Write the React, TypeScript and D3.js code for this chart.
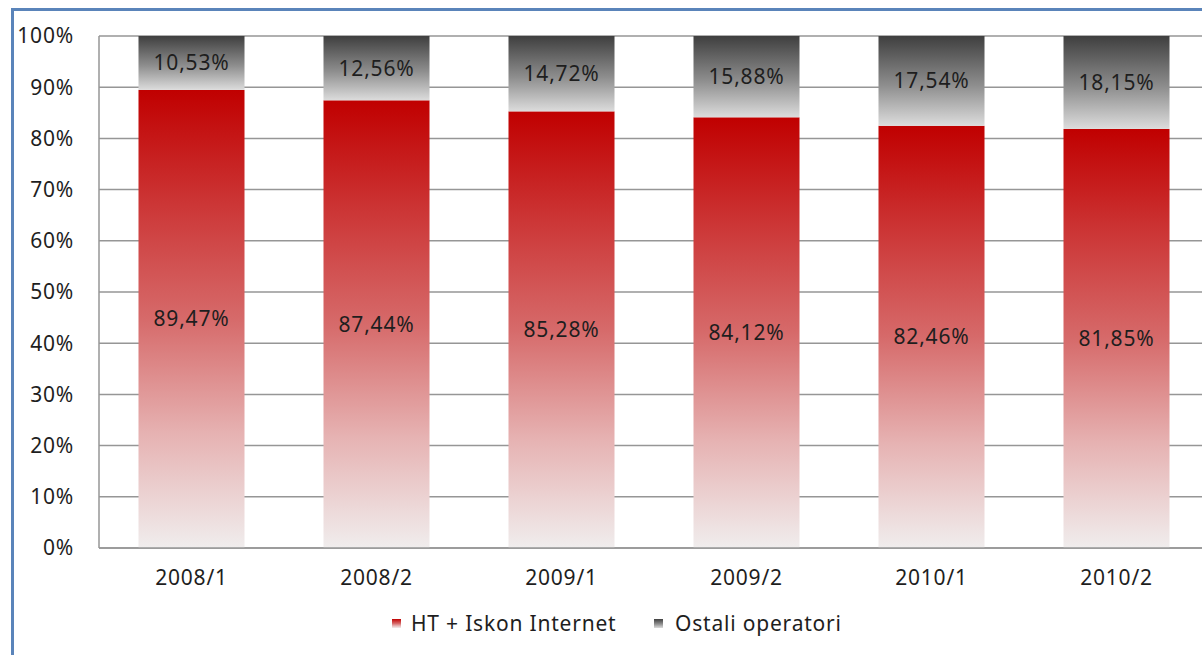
import React from "react";
import * as d3 from "d3";

const categories = ["2008/1", "2008/2", "2009/1", "2009/2", "2010/1", "2010/2"];
const htValues = [89.47, 87.44, 85.28, 84.12, 82.46, 81.85];
const otherValues = [10.53, 12.56, 14.72, 15.88, 17.54, 18.15];
const yTicks = [0, 10, 20, 30, 40, 50, 60, 70, 80, 90, 100];
const seriesNames = ["HT + Iskon Internet", "Ostali operatori"];

const W = 1202;
const H = 655;
const plotLeft = 99;
const plotTop = 36;
const plotBottom = 548;
const step = 185;
const FONT = "'Noto Sans', 'Open Sans', sans-serif";
const FS = 21;
const LS = 0.8;

const fmt = (v: number) => v.toFixed(2).replace(".", ",") + "%";

export default function App() {
  const x = d3
    .scaleBand<string>()
    .domain(categories)
    .range([plotLeft, plotLeft + step * categories.length])
    .paddingInner(0.427)
    .paddingOuter(0.2135);
  const y = d3.scaleLinear().domain([0, 100]).range([plotBottom, plotTop]);
  const bw = x.bandwidth();

  return (
    <svg
      width={W}
      height={H}
      style={{ position: "absolute", left: 0, top: 0, background: "#fff" }}
      fontFamily={FONT}
      letterSpacing={LS}
    >
      <defs>
        <linearGradient id="gRed" x1="0" y1="0" x2="0" y2="1">
          <stop offset="0%" stopColor="#c00000" />
          <stop offset="25%" stopColor="#cc3636" />
          <stop offset="50%" stopColor="#d66a6a" />
          <stop offset="75%" stopColor="#e6b2b2" />
          <stop offset="100%" stopColor="#f0eded" />
        </linearGradient>
        <linearGradient id="gGray" x1="0" y1="0" x2="0" y2="1">
          <stop offset="0%" stopColor="#3f3f3f" />
          <stop offset="55%" stopColor="#8e8e8e" />
          <stop offset="100%" stopColor="#dcdcdc" />
        </linearGradient>
      </defs>
      <rect x={0} y={0} width={W} height={H} fill="#ffffff" />
      {/* border */}
      <rect x={12.5} y={9.5} width={W + 20} height={H + 20} fill="none" stroke="#5a84ba" strokeWidth={3} />

      {/* gridlines */}
      {yTicks.map((t) => (
        <line key={"g" + t} x1={plotLeft} x2={W} y1={y(t)} y2={y(t)} stroke="#969696" strokeWidth={1.5} />
      ))}
      <line x1={plotLeft} x2={plotLeft} y1={plotTop} y2={plotBottom} stroke="#969696" strokeWidth={1.5} />

      {/* y tick labels */}
      {yTicks.map((t) => (
        <text key={"t" + t} x={74} y={y(t)} dy="0.35em" textAnchor="end" fontSize={FS} fill="#1e1e1e">
          {t + "%"}
        </text>
      ))}

      {/* bars */}
      {categories.map((c, i) => {
        const x0 = x(c)!;
        const ht = htValues[i];
        const ot = otherValues[i];
        return (
          <g key={c}>
            <rect x={x0} y={y(ht)} width={bw} height={y(0) - y(ht)} fill="url(#gRed)" />
            <rect x={x0} y={y(ht + ot)} width={bw} height={y(ht) - y(ht + ot)} fill="url(#gGray)" />
            <text x={x0 + bw / 2} y={y(ht / 2)} dy="0.35em" textAnchor="middle" fontSize={FS} fill="#1e1e1e">
              {fmt(ht)}
            </text>
            <text x={x0 + bw / 2} y={y(ht + ot / 2)} dy="0.35em" textAnchor="middle" fontSize={FS} fill="#1e1e1e">
              {fmt(ot)}
            </text>
            <text x={x0 + bw / 2} y={578} dy="0.35em" textAnchor="middle" fontSize={FS} fill="#1e1e1e">
              {c}
            </text>
          </g>
        );
      })}
      <line x1={plotLeft} x2={W} y1={plotBottom} y2={plotBottom} stroke="#969696" strokeWidth={1.5} />

      {/* legend */}
      <g>
        <rect x={392} y={619} width={9} height={9} fill="url(#gRed)" />
        <text x={411} y={624} dy="0.35em" fontSize={FS} fill="#1e1e1e">{seriesNames[0]}</text>
        <rect x={654} y={619} width={9} height={9} fill="url(#gGray)" />
        <text x={675} y={624} dy="0.35em" fontSize={FS} fill="#1e1e1e">{seriesNames[1]}</text>
      </g>
    </svg>
  );
}
